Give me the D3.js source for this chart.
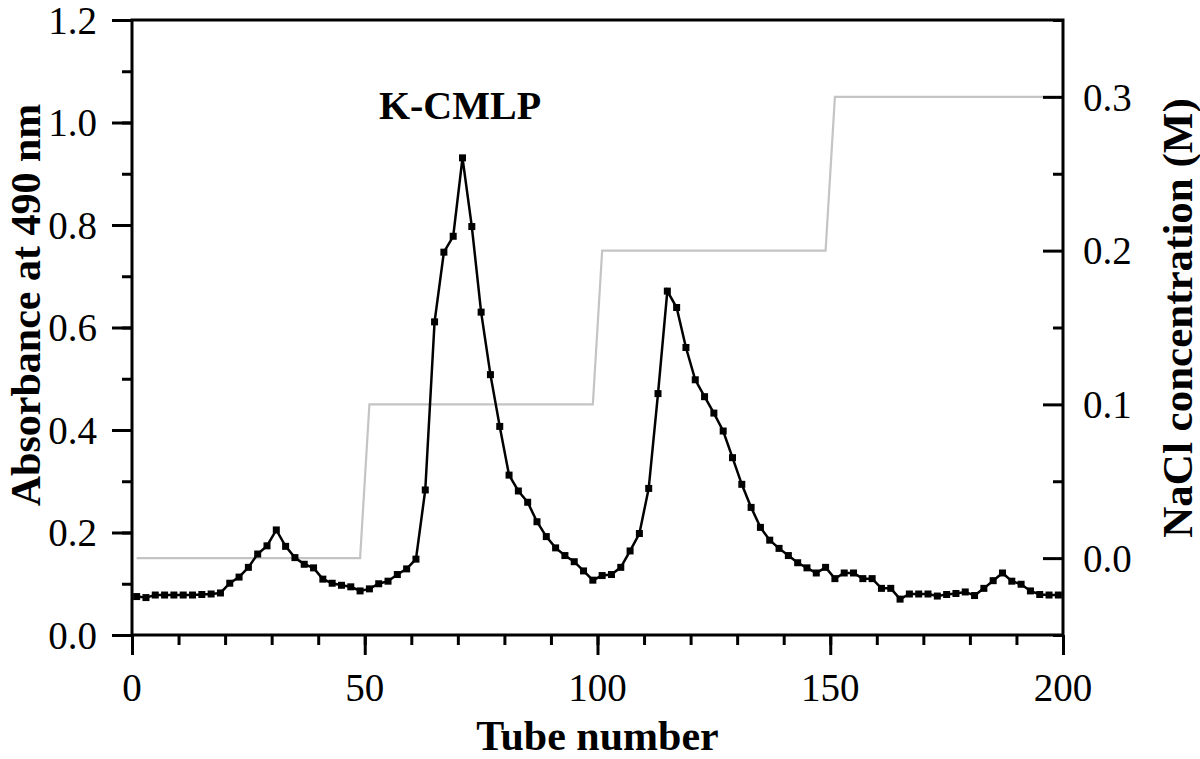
<!DOCTYPE html>
<html>
<head>
<meta charset="utf-8">
<script src="https://cdn.jsdelivr.net/npm/d3@7"></script>
<style>
  html, body { margin: 0; padding: 0; background: #fff; }
  svg { display: block; }
  text { font-family: 'Liberation Serif', 'Times New Roman', serif; fill: #000; }
</style>
</head>
<body>
<div id="chart"></div>
<script>
// ---------------------------------- DATA ---------------------------------- //

let tubes = [
  1, 3, 5, 7, 9, 11, 13, 15, 17, 19,
  21, 23, 25, 27, 29, 31, 33, 35, 37, 39,
  41, 43, 45, 47, 49, 51, 53, 55, 57, 59,
  61, 63, 65, 67, 69, 71, 73, 75, 77, 79,
  81, 83, 85, 87, 89, 91, 93, 95, 97, 99,
  101, 103, 105, 107, 109, 111, 113, 115, 117, 119,
  121, 123, 125, 127, 129, 131, 133, 135, 137, 139,
  141, 143, 145, 147, 149, 151, 153, 155, 157, 159,
  161, 163, 165, 167, 169, 171, 173, 175, 177, 179,
  181, 183, 185, 187, 189, 191, 193, 195, 197, 199
];
let absorbance = [
  0.075, 0.073, 0.078, 0.078, 0.078, 0.078, 0.078, 0.079, 0.080, 0.082,
  0.101, 0.113, 0.132, 0.158, 0.174, 0.205, 0.173, 0.151, 0.138, 0.131,
  0.109, 0.101, 0.097, 0.094, 0.086, 0.090, 0.100, 0.105, 0.118, 0.129,
  0.148, 0.283, 0.611, 0.747, 0.778, 0.931, 0.797, 0.630, 0.508, 0.407,
  0.312, 0.281, 0.259, 0.221, 0.192, 0.170, 0.155, 0.143, 0.125, 0.107,
  0.116, 0.118, 0.132, 0.164, 0.198, 0.286, 0.471, 0.671, 0.639, 0.561,
  0.498, 0.465, 0.433, 0.398, 0.346, 0.294, 0.249, 0.210, 0.185, 0.169,
  0.155, 0.141, 0.131, 0.121, 0.132, 0.110, 0.121, 0.121, 0.110, 0.110,
  0.091, 0.091, 0.070, 0.080, 0.080, 0.080, 0.076, 0.079, 0.081, 0.084,
  0.077, 0.091, 0.106, 0.121, 0.105, 0.099, 0.086, 0.079, 0.078, 0.078
];
let nacl_tubes = [1, 49, 51, 99, 101, 149, 151, 200];
let nacl_conc = [0, 0, 0.1, 0.1, 0.2, 0.2, 0.3, 0.3];

let x_ticks = [0, 50, 100, 150, 200];
let y_ticks = [0.0, 0.2, 0.4, 0.6, 0.8, 1.0, 1.2];
let y2_ticks = [0.0, 0.1, 0.2, 0.3];

let peak_label = 'K-CMLP';
let x_title = 'Tube number';
let y_title = 'Absorbance at 490 nm';
let y2_title = 'NaCl concentration (M)';

// ---------------------------------- SETTINGS ---------------------------------- //

let img_width = 1200;
let img_height = 759;
let margin = { top: 20, right: 137, bottom: 124, left: 132 };
let plot_w = img_width - margin.left - margin.right;
let plot_h = img_height - margin.top - margin.bottom;
let axis_width = 3;
let tick_major = 20;
let tick_minor = 10;
let tick_font = 39;
let title_font = 42;
let gray_color = '#c4c4c4';

// ---------------------------------- SCALES ---------------------------------- //

let x = d3.scaleLinear().domain([0, 200]).range([0, plot_w]);
let y = d3.scaleLinear().domain([0, 1.2]).range([plot_h, 0]);
let y2 = d3.scaleLinear().domain([-0.05, 0.35]).range([plot_h, 0]);

let svg = d3.select('#chart')
  .append('svg')
  .attr('width', img_width)
  .attr('height', img_height);

let g = svg.append('g')
  .attr('transform', `translate(${margin.left},${margin.top})`);

// ---------------------------------- LINES ---------------------------------- //

let nacl_line = d3.line()
  .x((d, i) => x(nacl_tubes[i]))
  .y(d => y2(d));

g.append('path')
  .datum(nacl_conc)
  .attr('d', nacl_line)
  .attr('fill', 'none')
  .attr('stroke', gray_color)
  .attr('stroke-width', 2.2);

let abs_line = d3.line()
  .x((d, i) => x(tubes[i]))
  .y(d => y(d));

g.append('path')
  .datum(absorbance)
  .attr('d', abs_line)
  .attr('fill', 'none')
  .attr('stroke', '#000')
  .attr('stroke-width', 2.5);

g.append('g')
  .selectAll('rect')
  .data(absorbance)
  .enter()
  .append('rect')
  .attr('x', (d, i) => x(tubes[i]) - 3.5)
  .attr('y', d => y(d) - 3.5)
  .attr('width', 7)
  .attr('height', 7)
  .attr('fill', '#000');

// ---------------------------------- AXES ---------------------------------- //

function styleAxis(sel) {
  sel.select('.domain').remove();
  sel.selectAll('line').attr('stroke', '#000').attr('stroke-width', axis_width);
  sel.selectAll('text').remove();
}

// bottom minor + major
g.append('g')
  .attr('transform', `translate(0,${plot_h})`)
  .call(d3.axisBottom(x).tickValues(d3.range(0, 201, 10)).tickSize(tick_minor))
  .call(styleAxis);
g.append('g')
  .attr('transform', `translate(0,${plot_h})`)
  .call(d3.axisBottom(x).tickValues(x_ticks).tickSize(tick_major))
  .call(styleAxis);

// left minor + major
g.append('g')
  .call(d3.axisLeft(y).tickValues(d3.range(0, 12.1, 1).map(v => v / 10)).tickSize(tick_minor))
  .call(styleAxis);
g.append('g')
  .call(d3.axisLeft(y).tickValues(y_ticks).tickSize(tick_major))
  .call(styleAxis);

// right ticks point inward
g.append('g')
  .attr('transform', `translate(${plot_w},0)`)
  .call(d3.axisLeft(y2).tickValues([-0.05, 0.05, 0.15, 0.25, 0.35]).tickSize(tick_minor))
  .call(styleAxis);
g.append('g')
  .attr('transform', `translate(${plot_w},0)`)
  .call(d3.axisLeft(y2).tickValues(y2_ticks).tickSize(tick_major))
  .call(styleAxis);

// frame
g.append('path')
  .attr('d', `M0,0H${plot_w}V${plot_h}H0Z`)
  .attr('fill', 'none')
  .attr('stroke', '#000')
  .attr('stroke-width', axis_width)
  .attr('stroke-linejoin', 'miter');

// tick labels
g.append('g').selectAll('text')
  .data(x_ticks)
  .enter()
  .append('text')
  .attr('x', d => x(d))
  .attr('y', plot_h + 66)
  .attr('text-anchor', 'middle')
  .attr('font-size', tick_font)
  .text(d => d);

g.append('g').selectAll('text')
  .data(y_ticks)
  .enter()
  .append('text')
  .attr('x', -35)
  .attr('y', d => y(d))
  .attr('dy', '0.35em')
  .attr('text-anchor', 'end')
  .attr('font-size', tick_font)
  .text(d => d3.format('.1f')(d));

g.append('g').selectAll('text')
  .data(y2_ticks)
  .enter()
  .append('text')
  .attr('x', plot_w + 20)
  .attr('y', d => y2(d))
  .attr('dy', '0.35em')
  .attr('text-anchor', 'start')
  .attr('font-size', tick_font)
  .text(d => d3.format('.1f')(d));

// ---------------------------------- TITLES ---------------------------------- //

svg.append('text')
  .attr('x', margin.left + plot_w / 2)
  .attr('y', 750)
  .attr('text-anchor', 'middle')
  .attr('font-size', title_font)
  .attr('font-weight', 'bold')
  .text(x_title);

svg.append('text')
  .attr('transform', `translate(40,305) rotate(-90)`)
  .attr('text-anchor', 'middle')
  .attr('font-size', title_font)
  .attr('font-weight', 'bold')
  .text(y_title);

svg.append('text')
  .attr('transform', `translate(1192,318) rotate(-90)`)
  .attr('text-anchor', 'middle')
  .attr('font-size', 43)
  .attr('font-weight', 'bold')
  .text(y2_title);

svg.append('text')
  .attr('x', 460)
  .attr('y', 119)
  .attr('text-anchor', 'middle')
  .attr('font-size', 40)
  .attr('font-weight', 'bold')
  .text(peak_label);
</script>
</body>
</html>
